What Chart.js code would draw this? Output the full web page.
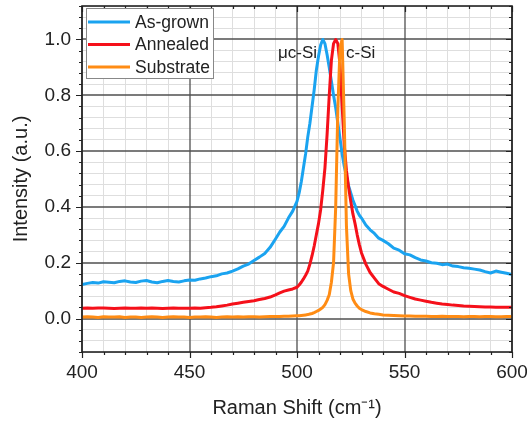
<!DOCTYPE html>
<html>
<head>
<meta charset="utf-8">
<script src="https://cdn.jsdelivr.net/npm/chart.js@4.4.0/dist/chart.umd.min.js"></script>
<style>
  html, body { margin: 0; padding: 0; background: #fff; }
  #wrap { width: 527px; height: 421px; }
</style>
</head>
<body>
<div id="wrap"><canvas id="raman"></canvas></div>
<script>
// Raman shift (cm-1), denser around the Si peaks
const shift = [
  400, 402.5, 405, 407.5, 410, 412.5, 415, 417.5, 420, 422.5, 425, 427.5, 430, 432.5, 435, 437.5, 440, 442.5, 445, 447.5, 450,
  452.5, 455, 457.5, 460, 462.5, 465, 467.5, 470, 472.5, 475, 477.5, 480, 482.5, 485, 487.5, 490,
  492, 494, 496, 498,
  500, 501, 502, 503, 504, 505, 506, 507, 508, 509, 510, 511, 512, 513, 514, 515,
  516, 517, 518, 519, 520, 521, 522, 523, 524, 525, 526, 527, 528, 529, 530,
  532, 534, 536, 538, 540,
  542.5, 545, 547.5, 550, 552.5, 555, 557.5, 560, 562.5, 565, 567.5, 570,
  572.5, 575, 577.5, 580, 582.5, 585, 587.5, 590, 592.5, 595, 597.5, 600
];
const asGrown = [
  0.122, 0.126, 0.129, 0.127, 0.132, 0.130, 0.128, 0.133, 0.135, 0.131, 0.129, 0.134, 0.136, 0.131, 0.128, 0.133, 0.136, 0.133, 0.131, 0.135, 0.138,
  0.137, 0.142, 0.145, 0.150, 0.153, 0.160, 0.163, 0.170, 0.178, 0.188, 0.195, 0.208, 0.220, 0.233, 0.255, 0.285,
  0.310, 0.330, 0.360, 0.385,
  0.420, 0.450, 0.490, 0.540, 0.590, 0.650, 0.700, 0.760, 0.820, 0.890, 0.940, 0.980, 1.000, 0.985, 0.945, 0.900,
  0.850, 0.800, 0.755, 0.700, 0.645, 0.590, 0.545, 0.510, 0.475, 0.450, 0.425, 0.405, 0.385, 0.370, 0.360,
  0.335, 0.318, 0.305, 0.288, 0.280,
  0.268, 0.252, 0.245, 0.232, 0.228, 0.218, 0.210, 0.206, 0.200, 0.198, 0.193, 0.195,
  0.188, 0.186, 0.182, 0.180, 0.177, 0.174, 0.168, 0.163, 0.170, 0.166, 0.162, 0.158
];
const annealed = [
  0.037, 0.038, 0.037, 0.038, 0.038, 0.037, 0.036, 0.037, 0.038, 0.037, 0.037, 0.038, 0.037, 0.038, 0.037, 0.036, 0.037, 0.038, 0.037, 0.037, 0.037,
  0.038, 0.037, 0.039, 0.040, 0.042, 0.045, 0.048, 0.052, 0.055, 0.058, 0.061, 0.064, 0.068, 0.072, 0.077, 0.085,
  0.092, 0.098, 0.102, 0.106,
  0.112, 0.120, 0.130, 0.142, 0.155, 0.170, 0.195, 0.225, 0.260, 0.300, 0.340, 0.390, 0.460, 0.540, 0.660, 0.800,
  0.925, 0.985, 1.000, 0.985, 0.910, 0.760, 0.620, 0.530, 0.470, 0.420, 0.375, 0.340, 0.300, 0.265, 0.235,
  0.195, 0.165, 0.145, 0.125, 0.115,
  0.105, 0.095, 0.090, 0.082, 0.076, 0.070, 0.066, 0.062, 0.058, 0.055, 0.052, 0.050,
  0.048, 0.047, 0.045, 0.044, 0.043, 0.042, 0.041, 0.041, 0.040, 0.040, 0.040, 0.040
];
const substrate = [
  0.005, 0.006, 0.005, 0.004, 0.006, 0.005, 0.005, 0.006, 0.004, 0.005, 0.005, 0.004, 0.005, 0.006, 0.005, 0.004, 0.005, 0.006, 0.005, 0.005, 0.004,
  0.005, 0.005, 0.006, 0.005, 0.004, 0.005, 0.006, 0.005, 0.006, 0.005, 0.006, 0.006, 0.005, 0.006, 0.007, 0.007,
  0.007, 0.008, 0.008, 0.009,
  0.010, 0.010, 0.011, 0.012, 0.013, 0.014, 0.016, 0.018, 0.021, 0.025, 0.029, 0.034, 0.040, 0.050, 0.065, 0.085,
  0.130, 0.200, 0.400, 0.750, 0.970, 1.000, 0.700, 0.330, 0.160, 0.100, 0.070, 0.055, 0.045, 0.037, 0.032,
  0.025, 0.020, 0.017, 0.015, 0.013,
  0.012, 0.011, 0.010, 0.009, 0.009, 0.008, 0.008, 0.008, 0.007, 0.007, 0.008, 0.007,
  0.007, 0.007, 0.006, 0.007, 0.007, 0.006, 0.007, 0.007, 0.006, 0.006, 0.007, 0.007
];
const seriesNames = ['As-grown', 'Annealed', 'Substrate'];
const seriesColors = ['#1aa3f0', '#f5101a', '#ff8c14'];
const peakLabels = [['μc-Si', 509.3, 0.95, 'right'], ['c-Si', 522.8, 0.95, 'left']];

const font = 'Arial, "Liberation Sans", sans-serif';

function pts(ys) {
  return shift.map((x, i) => ({ x: x, y: ys[i] }));
}

const isMajorX = v => v % 50 === 0;
const isMajorY = v => Math.round(v * 100) % 20 === 0;

// major grid on top of the minor one, frame, mirrored ticks, boxed legend, peak labels
const decor = {
  id: 'decor',
  beforeDatasetsDraw(chart) {
    const { ctx, chartArea: a, scales: { x, y } } = chart;
    ctx.save();
    ctx.strokeStyle = '#505050';
    ctx.lineWidth = 1.3;
    ctx.beginPath();
    x.ticks.filter(t => isMajorX(t.value)).forEach(t => {
      const px = Math.round(x.getPixelForValue(t.value));
      ctx.moveTo(px, a.top); ctx.lineTo(px, a.bottom);
    });
    y.ticks.filter(t => isMajorY(t.value)).forEach(t => {
      const py = Math.round(y.getPixelForValue(t.value));
      ctx.moveTo(a.left, py); ctx.lineTo(a.right, py);
    });
    ctx.stroke();
    ctx.restore();
  },
  afterDraw(chart) {
    const { ctx, chartArea: a, scales: { x, y } } = chart;
    ctx.save();
    ctx.strokeStyle = '#222';
    ctx.lineWidth = 1.2;
    ctx.beginPath();
    x.ticks.forEach(t => {
      const px = Math.round(x.getPixelForValue(t.value)) + 0.5;
      const len = isMajorX(t.value) ? 6 : 3;
      ctx.moveTo(px, a.bottom); ctx.lineTo(px, a.bottom + len);
      ctx.moveTo(px, a.top); ctx.lineTo(px, a.top + len);
    });
    y.ticks.forEach(t => {
      const py = Math.round(y.getPixelForValue(t.value)) + 0.5;
      const len = isMajorY(t.value) ? 6 : 3;
      ctx.moveTo(a.left - len, py); ctx.lineTo(a.left, py);
      ctx.moveTo(a.right - len, py); ctx.lineTo(a.right, py);
    });
    ctx.stroke();
    ctx.lineWidth = 1.6;
    ctx.strokeRect(a.left, a.top, a.width, a.height);

    // legend
    const lx = a.left + 4, ly = a.top + 2, lw = 127, lh = 70;
    ctx.fillStyle = '#fff';
    ctx.fillRect(lx, ly, lw, lh);
    ctx.strokeStyle = '#888';
    ctx.lineWidth = 1;
    ctx.strokeRect(lx + 0.5, ly + 0.5, lw, lh);
    ctx.font = '17.5px ' + font;
    ctx.textBaseline = 'middle';
    ctx.textAlign = 'left';
    seriesNames.forEach((name, i) => {
      const ry = ly + 14 + i * 22.5;
      ctx.strokeStyle = seriesColors[i];
      ctx.lineWidth = 3;
      ctx.beginPath();
      ctx.moveTo(lx + 2, ry); ctx.lineTo(lx + 44, ry);
      ctx.stroke();
      ctx.fillStyle = '#222';
      ctx.fillText(name, lx + 49, ry + 1);
    });

    // peak labels
    ctx.font = '17px ' + font;
    ctx.fillStyle = '#222';
    peakLabels.forEach(p => {
      ctx.textAlign = p[3];
      ctx.fillText(p[0], x.getPixelForValue(p[1]), y.getPixelForValue(p[2]));
    });
    ctx.restore();
  }
};

new Chart(document.getElementById('raman'), {
  type: 'line',
  data: {
    datasets: [
      { label: seriesNames[0], data: pts(asGrown), borderColor: seriesColors[0], order: 3 },
      { label: seriesNames[1], data: pts(annealed), borderColor: seriesColors[1], order: 2 },
      { label: seriesNames[2], data: pts(substrate), borderColor: seriesColors[2], order: 1 }
    ]
  },
  options: {
    responsive: true,
    maintainAspectRatio: false,
    animation: false,
    layout: { padding: { left: 0, right: 15, top: 6, bottom: 0 } },
    elements: {
      line: { borderWidth: 3, tension: 0, borderJoinStyle: 'round' },
      point: { radius: 0 }
    },
    plugins: { legend: { display: false }, tooltip: { enabled: false } },
    scales: {
      x: {
        type: 'linear',
        min: 400,
        max: 600,
        afterBuildTicks: s => {
          const t = [];
          for (let v = 400; v <= 600; v += 10) t.push({ value: v });
          s.ticks = t;
        },
        afterFit: s => { s.height = 69; s.paddingLeft = 0; s.paddingRight = 0; },
        ticks: {
          autoSkip: false,
          maxRotation: 0,
          padding: 9,
          color: '#222',
          font: { family: font, size: 19 },
          callback: v => isMajorX(v) ? String(v) : ''
        },
        grid: {
          drawTicks: false,
          color: c => isMajorX(c.tick.value) ? 'rgba(0,0,0,0)' : '#dedede',
          lineWidth: 1
        },
        border: { display: false },
        title: {
          display: true,
          text: 'Raman Shift (cm⁻¹)',
          color: '#222',
          font: { family: font, size: 20 },
          padding: { top: 0, bottom: 1 }
        }
      },
      y: {
        type: 'linear',
        min: -0.12,
        max: 1.12,
        afterBuildTicks: s => {
          const t = [];
          for (let k = -3; k <= 28; k++) t.push({ value: Math.round(k * 4) / 100 });
          s.ticks = t;
        },
        afterFit: s => { s.width = 82; s.paddingTop = 0; s.paddingBottom = 0; },
        ticks: {
          autoSkip: false,
          padding: 11,
          color: '#222',
          font: { family: font, size: 19 },
          callback: v => isMajorY(v) ? v.toFixed(1) : ''
        },
        grid: {
          drawTicks: false,
          color: c => isMajorY(c.tick.value) ? 'rgba(0,0,0,0)' : '#dedede',
          lineWidth: 1
        },
        border: { display: false },
        title: {
          display: true,
          text: 'Intensity (a.u.)',
          color: '#222',
          font: { family: font, size: 20 },
          padding: { top: 9, bottom: 0 }
        }
      }
    }
  },
  plugins: [decor]
});
</script>
</body>
</html>
